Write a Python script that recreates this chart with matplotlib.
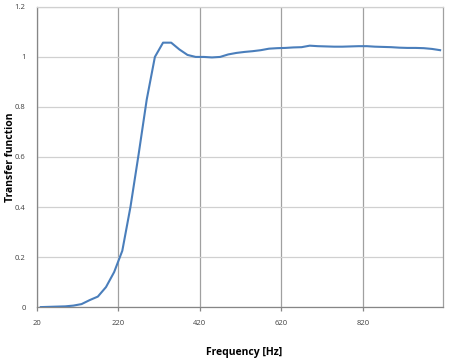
import matplotlib
matplotlib.use("Agg")
import matplotlib.pyplot as plt

freq = list(range(30, 1011, 20))
transfer = [0.000, 0.001, 0.002, 0.003, 0.006, 0.012, 0.028, 0.042, 0.080, 0.140,
            0.225, 0.400, 0.610, 0.830, 1.000, 1.057, 1.057, 1.030, 1.008, 1.000,
            1.000, 0.998, 1.000, 1.010, 1.016, 1.020, 1.023, 1.027, 1.033, 1.035,
            1.036, 1.038, 1.039, 1.045, 1.043, 1.042, 1.041, 1.041, 1.042, 1.043,
            1.043, 1.041, 1.040, 1.039, 1.037, 1.036, 1.036, 1.035, 1.032, 1.027]
x_ticks = [20, 220, 420, 620, 820]
y_ticks = [0, 0.2, 0.4, 0.6, 0.8, 1.0, 1.2]
y_tick_labels = ["0", "0.2", "0.4", "0.6", "0.8", "1", "1.2"]

plt.rcParams['font.family'] = ['Open Sans', 'DejaVu Sans']

fig = plt.figure(figsize=(4.5, 3.63), dpi=100)
ax = fig.add_axes([0.0816, 0.154, 0.9028, 0.827])

ax.plot(freq, transfer, color='#4A7EBB', lw=1.5, zorder=3)

ax.set_xlim(20, 1017)
ax.set_ylim(0, 1.2)
ax.set_xticks(x_ticks)
ax.set_yticks(y_ticks)
ax.set_yticklabels(y_tick_labels)

ax.grid(axis='y', color='#D0D0D0', lw=0.9)
ax.grid(axis='x', color='#A0A0A0', lw=0.9)
ax.set_axisbelow(True)

for s in ['left', 'bottom']:
    ax.spines[s].set_color('#868686')
    ax.spines[s].set_linewidth(0.9)
ax.spines['top'].set_color('#D0D0D0')
ax.spines['top'].set_linewidth(0.9)
ax.spines['right'].set_color('#A0A0A0')
ax.spines['right'].set_linewidth(0.9)

ax.tick_params(axis='x', length=3, width=0.9, color='#868686', labelsize=5.5,
               labelcolor='#404040', pad=6)
ax.tick_params(axis='y', length=0, labelsize=5.5, labelcolor='#404040', pad=8)

ax.set_xlabel('Frequency [Hz]', fontsize=7.5, fontweight='bold')
ax.xaxis.set_label_coords(0.51, -0.133)
ax.set_ylabel('Transfer function', fontsize=7.5, fontweight='bold')
ax.yaxis.set_label_coords(-0.050, 0.5)

fig.savefig('out.png', dpi=100)
